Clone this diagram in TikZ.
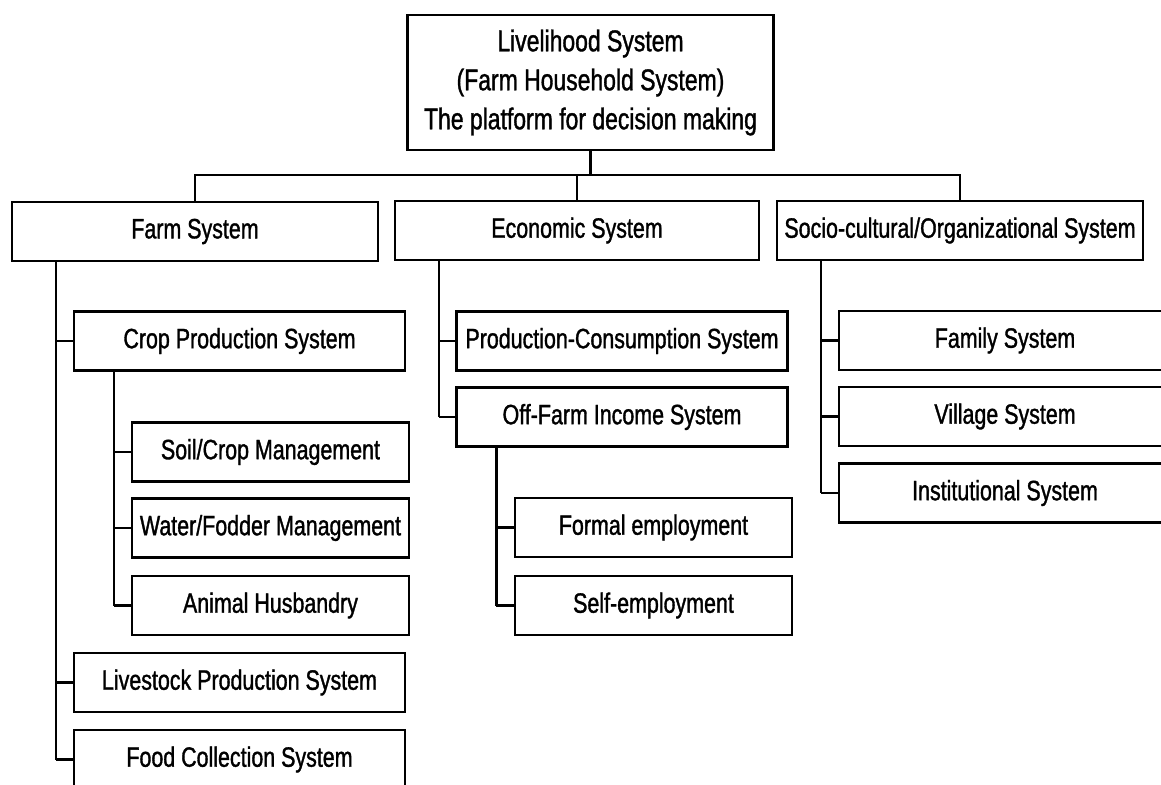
\documentclass[tikz,border=0pt]{standalone}
\usepackage{fontspec}
\setmainfont[FakeStretch=0.765, FakeBold=1.2]{Liberation Sans}

\begin{document}
\begin{tikzpicture}[
  x=0.5pt, y=-0.5pt,
  line width=1.2pt,
  every node/.style = {shape=rectangle, draw, align=center,
    inner sep=0pt, minimum height=29.5pt,
    font=\fontsize{14}{16}\selectfont}]
    \tikzstyle{wide}=[minimum width=183pt]
    \tikzstyle{mid}=[minimum width=165.5pt]
    \tikzstyle{narrow}=[minimum width=138.5pt]
  \useasboundingbox (0,0) rectangle (1161,785);
  % top level
  \node[wide, minimum height=67.5pt, font=\fontsize{15}{19.5}\selectfont] (top) at (590.5,82.5)
    {Livelihood System\\(Farm Household System)\\The platform for decision making};
  \node[wide] (farm)  at (195,231.5) {Farm System};
  \node[wide, minimum width=182pt] (econ)  at (577,230.5) {Economic System};
  \node[wide] (socio) at (960,230.5) {Socio-cultural/Organizational System};
  % farm system
  \node[mid] (crop)      at (239.5,341)   {Crop Production System};
  \node[narrow] (soil)   at (270.5,452)   {Soil/Crop Management};
  \node[narrow] (water)  at (270.5,528)   {Water/Fodder Management};
  \node[narrow] (animal) at (270.5,605.5) {Animal Husbandry};
  \node[mid] (livestock) at (239.5,682.5) {Livestock Production System};
  \node[mid] (food)      at (239.5,759.5) {Food Collection System};
  % economic system
  \node[mid] (prodcons) at (622,341)     {Production-Consumption System};
  \node[mid] (offfarm)  at (622,417)     {Off-Farm Income System};
  \node[narrow] (formal) at (653.5,527.5) {Formal employment};
  \node[narrow] (self)   at (653.5,605.5) {Self-employment};
  % socio-cultural system
  \node[mid, minimum width=166pt] (family)  at (1005,340.5) {Family System};
  \node[mid, minimum width=166pt] (village) at (1005,416.5) {Village System};
  \node[mid, minimum width=166pt] (inst)    at (1005,493)   {Institutional System};
  % connectors
  \coordinate (bus) at (590.5,175);
  \draw (top.south) -- (bus);
  \draw (farm.north) |- (bus) -| (socio.north);
  \draw (econ.north) -- (econ.north |- bus);
  \draw (farm.south west) ++(45,0) coordinate (farmline) -- (farmline |- food.west);
  \foreach \n in {crop,livestock,food}
    \draw (farmline |- \n.west) -- (\n.west);
  \draw (crop.south west) ++(41,0) coordinate (cropline) -- (cropline |- animal.west);
  \foreach \n in {soil,water,animal}
    \draw (cropline |- \n.west) -- (\n.west);
  \draw (econ.south west) ++(45,0) coordinate (econline) -- (econline |- offfarm.west);
  \foreach \n in {prodcons,offfarm}
    \draw (econline |- \n.west) -- (\n.west);
  \draw (offfarm.south west) ++(41,0) coordinate (offline) -- (offline |- self.west);
  \foreach \n in {formal,self}
    \draw (offline |- \n.west) -- (\n.west);
  \draw (socio.south west) ++(45,0) coordinate (socioline) -- (socioline |- inst.west);
  \foreach \n in {family,village,inst}
    \draw (socioline |- \n.west) -- (\n.west);
\end{tikzpicture}
\end{document}
